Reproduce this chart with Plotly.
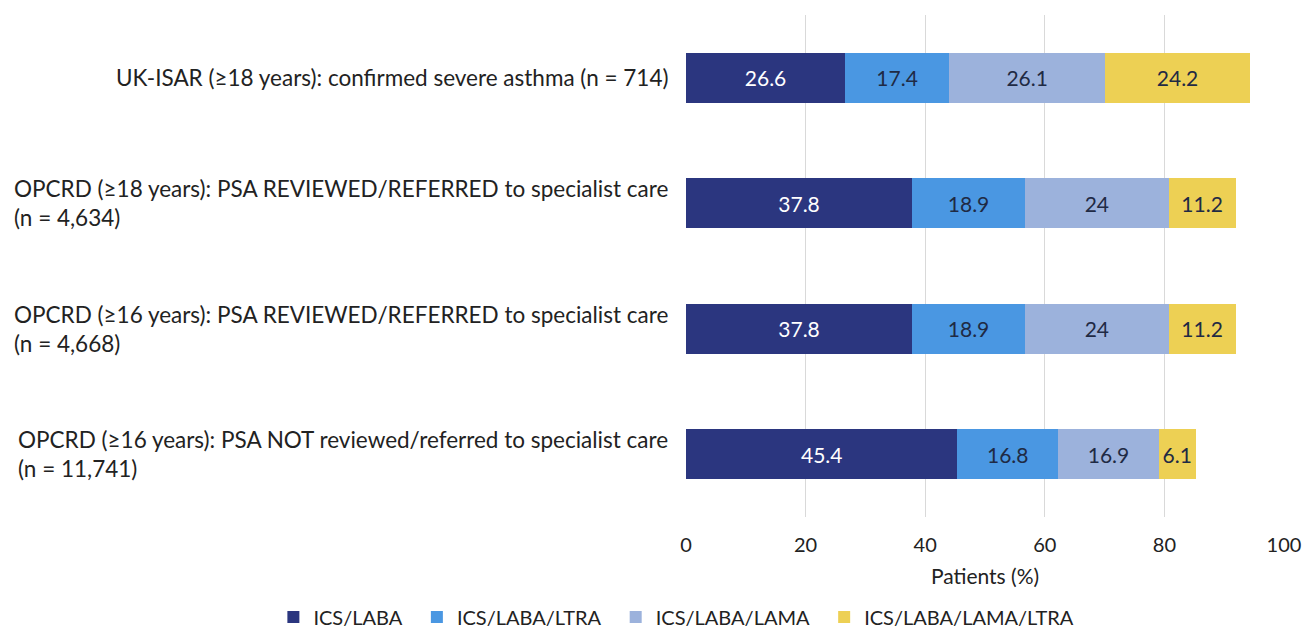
import plotly.graph_objects as go

categories = [
    "UK-ISAR (≥18 years): confirmed severe asthma (n = 714)",
    "OPCRD (≥18 years): PSA REVIEWED/REFERRED to specialist care<br>(n = 4,634)",
    "OPCRD (≥16 years): PSA REVIEWED/REFERRED to specialist care<br>(n = 4,668)",
    "OPCRD (≥16 years): PSA NOT reviewed/referred to specialist care<br>(n = 11,741)",
]
series_names = ["ICS/LABA", "ICS/LABA/LTRA", "ICS/LABA/LAMA", "ICS/LABA/LAMA/LTRA"]
ics_laba = [26.6, 37.8, 37.8, 45.4]
ics_laba_ltra = [17.4, 18.9, 18.9, 16.8]
ics_laba_lama = [26.1, 24, 24, 16.9]
ics_laba_lama_ltra = [24.2, 11.2, 11.2, 6.1]
x_ticks = [0, 20, 40, 60, 80, 100]

series_values = [ics_laba, ics_laba_ltra, ics_laba_lama, ics_laba_lama_ltra]
colors = ["#2B367F", "#4A97E2", "#9CB2DC", "#EDD054"]
text_colors = ["#FFFFFF", "#1F2A44", "#1F2A44", "#1F2A44"]

FONT = "Lato"
fig = go.Figure()
ids = [f"c{i}" for i in range(len(categories))]
for name, vals, col, tcol in zip(series_names, series_values, colors, text_colors):
    fig.add_trace(go.Bar(
        y=ids, x=vals, name=name + "&nbsp;&nbsp;", orientation="h",
        marker=dict(color=col, line=dict(width=0)),
        text=[f"{v:g}" for v in vals], textposition="inside",
        insidetextanchor="middle", constraintext="none", textangle=0,
        textfont=dict(color=tcol, size=21, family=FONT),
        width=0.4,
    ))

for cid, label in zip(ids, categories):
    fig.add_annotation(
        x=0, xref="paper", y=cid, yref="y", text=label, showarrow=False,
        xanchor="right", align="left", xshift=-16,
        font=dict(size=22.5, family=FONT, color="#222222"),
    )

fig.update_layout(
    barmode="stack",
    width=1309, height=635,
    margin=dict(l=686, r=25, t=15, b=118, autoexpand=False),
    paper_bgcolor="white", plot_bgcolor="white",
    font=dict(family=FONT, size=21, color="#222222"),
    xaxis=dict(range=[0, 100], tickvals=x_ticks, showgrid=True,
               gridcolor="#D9D9D9", gridwidth=1, zeroline=False,
               showline=False, ticks="", ticklabelstandoff=14,
               tickfont=dict(size=20, family=FONT),
               title=dict(text="Patients (%)", standoff=14,
                          font=dict(size=21, family=FONT))),
    yaxis=dict(autorange="reversed", showticklabels=False, showgrid=False,
               zeroline=False, showline=False),
    legend=dict(orientation="h", xref="paper", x=-0.69, xanchor="left",
                yref="paper", y=-0.199, yanchor="middle",
                font=dict(size=20, family=FONT), itemwidth=30,
                traceorder="normal", tracegroupgap=0),
    showlegend=True,
)

fig.write_html("out.html", config={"displayModeBar": False},
               post_script="document.body.style.margin='0';")
